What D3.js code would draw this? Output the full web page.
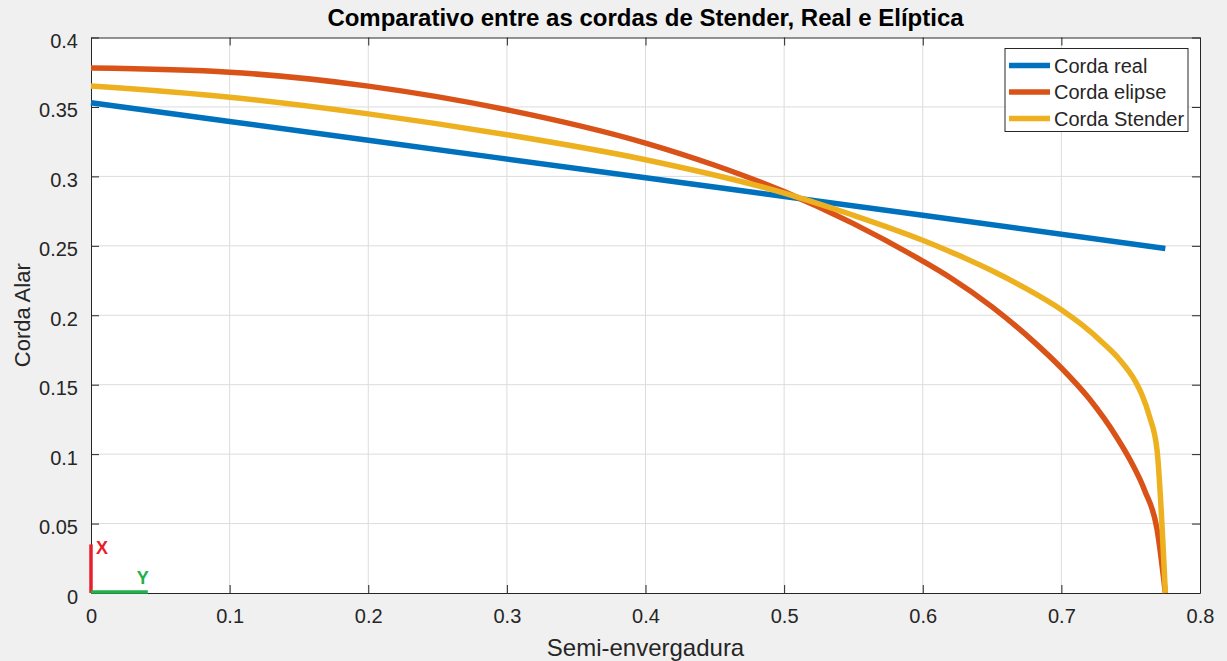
<!DOCTYPE html>
<html>
<head>
<meta charset="utf-8">
<script src="https://cdn.jsdelivr.net/npm/d3@7"></script>
<style>
	html, body { margin: 0; padding: 0; background: #f0f0f0; }
	svg { display: block; font-family: "Liberation Sans", Arial, sans-serif; }
</style>
</head>
<body>
<div id="chart"></div>
<script>
// chord distributions
const realX = [0, 0.2, 0.4, 0.6, 0.775];
const realY = [0.353, 0.326, 0.299, 0.272, 0.248];

const elipseX = [0, 0.1, 0.2, 0.3, 0.4, 0.45, 0.5, 0.55, 0.6, 0.62, 0.65, 0.68, 0.7, 0.72, 0.74, 0.75, 0.76, 0.769, 0.775];
const elipseY = [0.378, 0.375, 0.365, 0.348, 0.324, 0.308, 0.289, 0.266, 0.239, 0.227, 0.206, 0.181, 0.162, 0.140, 0.112, 0.095, 0.074, 0.046, 0];

const stenderX = [0, 0.1, 0.2, 0.3, 0.4, 0.5, 0.55, 0.6, 0.625, 0.65, 0.675, 0.7, 0.715, 0.73, 0.742, 0.753, 0.758, 0.7636, 0.769, 0.775];
const stenderY = [0.365, 0.357, 0.345, 0.330, 0.312, 0.288, 0.272, 0.254, 0.2435, 0.232, 0.219, 0.204, 0.193, 0.180, 0.168, 0.153, 0.143, 0.127, 0.103, 0];

const seriesNames = ['Corda real', 'Corda elipse', 'Corda Stender'];
const seriesColors = ['#0072bd', '#d95319', '#edb120'];
const xTicks = [0, 0.1, 0.2, 0.3, 0.4, 0.5, 0.6, 0.7, 0.8];
const yTicks = [0, 0.05, 0.1, 0.15, 0.2, 0.25, 0.3, 0.35, 0.4];

const width = 1227, height = 661;
const margin = {top: 37.5, right: 27, bottom: 68, left: 91};
const innerW = width - margin.left - margin.right;
const innerH = height - margin.top - margin.bottom;

const series = [
	{name: seriesNames[0], color: seriesColors[0], points: d3.zip(realX, realY)},
	{name: seriesNames[1], color: seriesColors[1], points: d3.zip(elipseX, elipseY)},
	{name: seriesNames[2], color: seriesColors[2], points: d3.zip(stenderX, stenderY)}
];

const xScale = d3.scaleLinear().domain([0, 0.8]).range([0, innerW]);
const yScale = d3.scaleLinear().domain([0, 0.4]).range([innerH, 0]);
const fmt = d => String(+d.toFixed(2));

const svg = d3.select('#chart').append('svg')
	.attr('width', width)
	.attr('height', height);

svg.append('rect').attr('width', width).attr('height', height).attr('fill', '#f0f0f0');

const g = svg.append('g')
	.attr('transform', `translate(${margin.left}, ${margin.top})`);

g.append('rect')
	.attr('width', innerW)
	.attr('height', innerH)
	.attr('fill', '#fff');

// grid
g.append('g').selectAll('line').data(xTicks.slice(1, -1)).enter().append('line')
	.attr('x1', d => xScale(d)).attr('x2', d => xScale(d))
	.attr('y1', 0).attr('y2', innerH)
	.attr('stroke', '#dcdcdc').attr('stroke-width', 1);
g.append('g').selectAll('line').data(yTicks.slice(1, -1)).enter().append('line')
	.attr('y1', d => yScale(d)).attr('y2', d => yScale(d))
	.attr('x1', 0).attr('x2', innerW)
	.attr('stroke', '#dcdcdc').attr('stroke-width', 1);

// axes (ticks pointing inwards, box on)
const axisStyle = (sel) =>{
	sel.select('.domain').attr('stroke', '#262626');
	sel.selectAll('.tick line').attr('stroke', '#262626');
	sel.selectAll('.tick text').attr('fill', '#262626').style('font-size', '20px');
};

g.append('g')
	.attr('transform', `translate(0, ${innerH})`)
	.call(d3.axisBottom(xScale).tickValues(xTicks).tickFormat(fmt).tickSizeInner(-8).tickSizeOuter(0).tickPadding(16))
	.call(axisStyle);
g.append('g')
	.call(d3.axisTop(xScale).tickValues(xTicks).tickFormat('').tickSizeInner(-8).tickSizeOuter(0))
	.call(axisStyle);
g.append('g')
	.call(d3.axisLeft(yScale).tickValues(yTicks).tickFormat(fmt).tickSizeInner(-8).tickSizeOuter(0).tickPadding(13))
	.call(axisStyle)
	.selectAll('.tick text').attr('dy', '0.5em');
g.append('g')
	.attr('transform', `translate(${innerW}, 0)`)
	.call(d3.axisRight(yScale).tickValues(yTicks).tickFormat('').tickSizeInner(-8).tickSizeOuter(0))
	.call(axisStyle);

// lines
const line = d3.line()
	.x(d => xScale(d[0]))
	.y(d => yScale(d[1]))
	.curve(d3.curveMonotoneX);

g.append('g').selectAll('path').data(series).enter().append('path')
	.attr('d', d => line(d.points))
	.attr('fill', 'none')
	.attr('stroke', d => d.color)
	.attr('stroke-width', 5.5)
	.attr('stroke-linejoin', 'round');

// orientation marker in the corner
g.append('line')
	.attr('x1', xScale(0)).attr('x2', xScale(0))
	.attr('y1', yScale(0)).attr('y2', yScale(0.035))
	.attr('stroke', '#e8202a').attr('stroke-width', 3.5);
g.append('line')
	.attr('x1', xScale(0)).attr('x2', xScale(0.041))
	.attr('y1', yScale(0) - 1).attr('y2', yScale(0) - 1)
	.attr('stroke', '#22b04a').attr('stroke-width', 3.5);
g.append('text')
	.attr('x', xScale(0) + 5).attr('y', yScale(0.035) + 10)
	.attr('fill', '#e8202a').style('font-size', '18px').style('font-weight', 'bold')
	.text('X');
g.append('text')
	.attr('x', xScale(0.033)).attr('y', yScale(0) - 9)
	.attr('fill', '#22b04a').style('font-size', '18px').style('font-weight', 'bold')
	.text('Y');

// legend
const legend = g.append('g')
	.attr('transform', `translate(${innerW - 195}, 11)`);
legend.append('rect')
	.attr('width', 183).attr('height', 83)
	.attr('fill', '#fff').attr('stroke', '#262626').attr('stroke-width', 1);
const items = legend.selectAll('.item').data(series).enter().append('g')
	.attr('transform', (d, i) => `translate(0, ${17 + i * 26.5})`);
items.append('line')
	.attr('x1', 4).attr('x2', 45)
	.attr('stroke', d => d.color).attr('stroke-width', 5.5);
items.append('text')
	.attr('x', 49).attr('dy', '0.36em')
	.attr('fill', '#262626').style('font-size', '20px')
	.text(d => d.name);

// labels
svg.append('text')
	.attr('x', margin.left + innerW / 2).attr('y', 26)
	.attr('text-anchor', 'middle')
	.style('font-size', '24px').style('font-weight', 'bold')
	.text('Comparativo entre as cordas de Stender, Real e Elíptica');
svg.append('text')
	.attr('x', margin.left + innerW / 2).attr('y', 656)
	.attr('text-anchor', 'middle')
	.attr('fill', '#262626').style('font-size', '24px')
	.text('Semi-envergadura');
svg.append('text')
	.attr('transform', `translate(30, ${margin.top + innerH / 2}) rotate(-90)`)
	.attr('text-anchor', 'middle')
	.attr('fill', '#262626').style('font-size', '22px')
	.text('Corda Alar');
</script>
</body>
</html>
